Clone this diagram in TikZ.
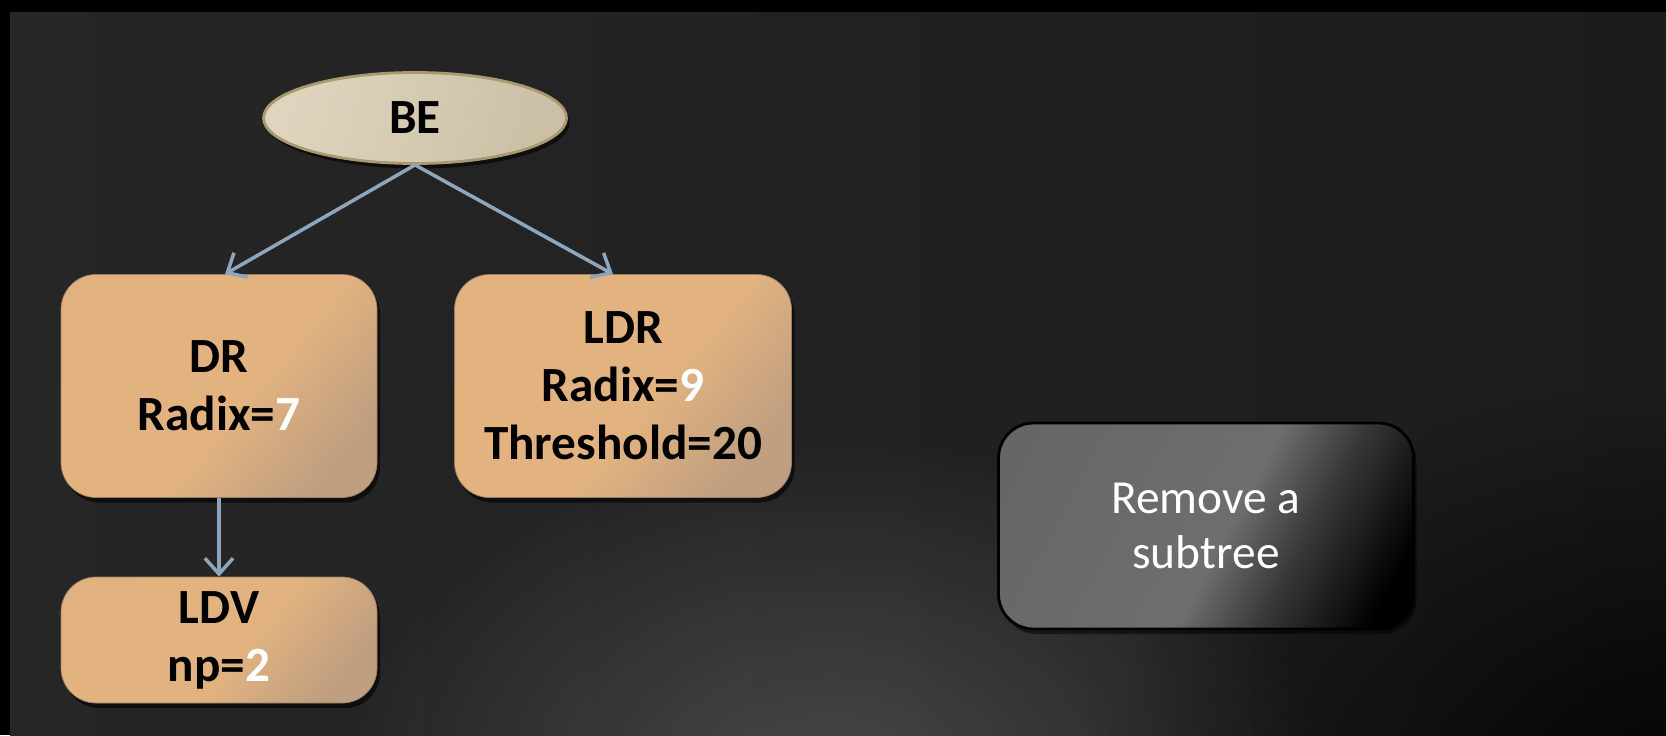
\documentclass[tikz,border=0pt]{standalone}
\usepackage{fontspec}
\setmainfont{Carlito}
\usetikzlibrary{shapes}
\usetikzlibrary{positioning}
\usetikzlibrary{arrows.meta}
\usetikzlibrary{shadows}
\usetikzlibrary{fadings}
\definecolor{bgdark}{HTML}{262626}
\definecolor{bgright}{HTML}{1C1C1C}
\definecolor{tan}{HTML}{E1B07E}
\definecolor{tanlight}{HTML}{E2B380}
\definecolor{tandark}{HTML}{C09F80}
\definecolor{beigel}{HTML}{DFD5BE}
\definecolor{beiged}{HTML}{CBC0A6}
\definecolor{beigeline}{HTML}{A8996E}
\definecolor{grayl}{HTML}{616161}
\definecolor{graym}{HTML}{6E6E6E}
\definecolor{arrowblue}{HTML}{8EA6BC}
\pgfdeclareverticalshading{tanshade}{100bp}{color(0bp)=(tandark); color(25bp)=(tandark); color(45bp)=(tanlight); color(100bp)=(tan)}
\pgfdeclareverticalshading{grayshade}{100bp}{color(0bp)=(black); color(22bp)=(black); color(36bp)=(graym!50!black); color(47bp)=(graym); color(100bp)=(grayl)}
\tikzfading[name=glowfade, inner color=transparent!0, outer color=transparent!100]
\tikzset{
    rootnode/.style = {ellipse, draw=beigeline, thick, minimum width=3.03cm, minimum height=0.91cm, inner sep=0pt,
        top color=beigel, middle color=beigel, bottom color=beiged, shading angle=75,
        drop shadow={fill=black, opacity=0.6, shadow xshift=0.03cm, shadow yshift=-0.05cm},
        font=\fontsize{14}{16}\selectfont\bfseries},
    mynode/.style = {rectangle, rounded corners=0.35cm, draw=tandark!80!black, very thin, align=center,
        shading=tanshade, shading angle=50,
        drop shadow={fill=black, opacity=0.6, shadow xshift=0.03cm, shadow yshift=-0.05cm},
        minimum width=3.16cm, minimum height=2.23cm, inner sep=0pt,
        font=\fontsize{14}{16.5}\selectfont\bfseries},
    mynodeg/.style = {rectangle, rounded corners=0.35cm, draw=black, thick, align=center,
        shading=grayshade, shading angle=62,
        drop shadow={fill=black, opacity=0.5, shadow xshift=0.03cm, shadow yshift=-0.05cm},
        minimum width=4.15cm, minimum height=2.06cm, inner sep=0pt,
        text=white, font=\fontsize{13.5}{15.5}\selectfont},
    edgen/.style = {-{Straight Barb[length=4.5pt,width=8pt]}, line width=1pt, arrowblue}
}
\newcommand{\wnum}[1]{{\color{white}#1}}

\begin{document}
\begin{tikzpicture}
\useasboundingbox (0,0) rectangle (16.66,-7.35);
% background
\fill[black] (0,0) rectangle (16.66,-7.35);
\shade[left color=bgdark, right color=bgright] (0.10,-0.12) rectangle (16.66,-7.35);
\begin{scope}
\clip (0.10,-0.12) rectangle (16.66,-7.35);
\fill[white, fill opacity=0.18, path fading=glowfade] (8.3,-7.9) ellipse (5.0 and 3.6);
\fill[black, fill opacity=0.9, path fading=glowfade] (17.0,-8.0) ellipse (6.0 and 4.2);
\end{scope}
%
\node[rootnode] at (4.15,-1.18) (be) {BE};
\node[mynode] at (2.19,-3.86) (dr) {DR\\Radix=\wnum{7}};
\node[mynode, minimum width=3.37cm] at (6.23,-3.86) (ldr) {LDR\\Radix=\wnum{9}\\Threshold=20};
\node[mynode, minimum height=1.26cm] at (2.19,-6.40) (ldv) {LDV\\np=\wnum{2}};
\node[mynodeg] at (12.06,-5.26) (rm) {Remove a\\subtree};
%
\draw[edgen] (be.south) -- ([xshift=0.06cm]dr.north);
\draw[edgen] (be.south) -- ([xshift=-0.10cm]ldr.north);
\draw[edgen] (dr.south) -- (ldv.north);
\end{tikzpicture}
\end{document}
